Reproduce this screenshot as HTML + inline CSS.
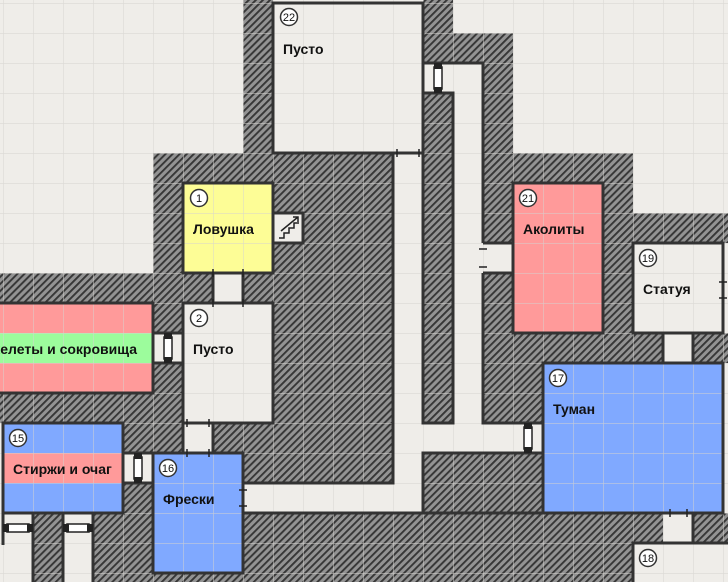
<!DOCTYPE html>
<html><head><meta charset="utf-8"><style>
html,body{margin:0;padding:0;background:#efede9;}
svg{display:block;}
text{font-family:"Liberation Sans",sans-serif;font-weight:bold;fill:#111;}
.n{font-weight:normal;font-size:11px;text-anchor:middle;}
</style></head><body>
<svg width="728" height="582" viewBox="0 0 728 582" xmlns="http://www.w3.org/2000/svg">
<defs>
<pattern id="h" width="5" height="5" patternUnits="userSpaceOnUse" patternTransform="rotate(45)">
<rect width="5" height="5" fill="#939393"/><rect width="1.9" height="5" fill="#363636"/>
</pattern>
<pattern id="g" x="3" y="3" width="30" height="30" patternUnits="userSpaceOnUse">
<path d="M0 0H30M0 0V30" fill="none" stroke="#d6d4d0" stroke-width="1.2"/>
</pattern>
</defs>
<rect width="728" height="582" fill="#efede9"/>
<g fill="url(#h)">
<rect x="243" y="0" width="30" height="153"/>
<rect x="423" y="0" width="30" height="33"/>
<rect x="423" y="33" width="90" height="30"/>
<rect x="483" y="63" width="30" height="90"/>
<rect x="423" y="93" width="30" height="330"/>
<rect x="153" y="153" width="240" height="120"/>
<rect x="0" y="273" width="393" height="30"/>
<rect x="153" y="303" width="30" height="90"/>
<rect x="273" y="303" width="120" height="180"/>
<rect x="0" y="393" width="183" height="30"/>
<rect x="123" y="423" width="60" height="30"/>
<rect x="213" y="423" width="180" height="30"/>
<rect x="243" y="453" width="150" height="30"/>
<rect x="123" y="453" width="30" height="60"/>
<rect x="93" y="513" width="60" height="69"/>
<rect x="33" y="513" width="30" height="69"/>
<rect x="153" y="570" width="90" height="12"/>
<rect x="243" y="513" width="420" height="30"/>
<rect x="243" y="543" width="390" height="39"/>
<rect x="693" y="513" width="35" height="30"/>
<rect x="483" y="153" width="150" height="180"/>
<rect x="633" y="213" width="95" height="30"/>
<rect x="483" y="333" width="60" height="90"/>
<rect x="543" y="333" width="120" height="30"/>
<rect x="693" y="333" width="35" height="30"/>
<rect x="423" y="453" width="120" height="60"/>
</g>
<g fill="#efede9">
<rect x="213" y="273" width="30" height="30"/>
<rect x="153" y="333" width="30" height="30"/>
<rect x="123" y="453" width="30" height="30"/>
<rect x="483" y="243" width="30" height="30"/>
<rect x="273" y="213" width="30" height="30"/>
<rect x="273" y="3" width="150" height="150"/>
<rect x="183" y="303" width="90" height="120"/>
<rect x="633" y="243" width="90" height="90"/>
<rect x="633" y="543" width="95" height="40"/>
</g>
<rect x="183" y="183" width="90" height="90" fill="#fdfd96"/>
<rect x="-5" y="303" width="158" height="90" fill="#ff9a9a"/>
<rect x="-5" y="333" width="158" height="30" fill="#9cfc9c"/>
<rect x="3" y="423" width="120" height="90" fill="#80a9ff"/>
<rect x="3" y="453" width="120" height="30" fill="#ff9a9a"/>
<rect x="153" y="453" width="90" height="120" fill="#80a9ff"/>
<rect x="513" y="183" width="90" height="150" fill="#ff9a9a"/>
<rect x="543" y="363" width="180" height="150" fill="#80a9ff"/>
<rect width="728" height="582" fill="url(#g)" opacity="0.8"/>
<g fill="none" stroke="#333" stroke-width="3">
<rect x="273" y="3" width="150" height="150"/>
<rect x="183" y="183" width="90" height="90"/>
<rect x="273" y="213" width="30" height="30"/>
<rect x="183" y="303" width="90" height="120"/>
<rect x="3" y="423" width="120" height="90"/>
<rect x="153" y="453" width="90" height="120"/>
<rect x="513" y="183" width="90" height="150"/>
<rect x="633" y="243" width="90" height="90"/>
<rect x="543" y="363" width="180" height="150"/>
<rect x="423" y="93" width="30" height="330"/>
<path d="M-5 303H153V393H-5"/>
<path d="M423 63H483V243M483 273V423H543"/>
<path d="M393 153V483H243M243 513H663M693 513V543M633 582V543H728"/>
<path d="M423 513V453H543"/>
<path d="M213 273V303M243 273V303M153 333H183M153 363H183M183 423V453M213 423V453M123 453H153M123 483H153"/>
<path d="M483 243H513M483 273H513M663 333V363M693 333V363"/>
<path d="M3 513V545M33 513V582M63 513V582M93 513V582"/>
</g>
<g stroke="#222" stroke-width="1.5">
<path d="M397 149V157M419 149V157M213 269V277M243 269V277M213 299V307M243 299V307M187 419V427M209 419V427M187 449V457M209 449V457M239 490H247M239 506H247M479 249H487M479 267H487M719 282H727M719 298H727M670 509V517M687 509V517"/>
</g>
<g>
<rect x="434" y="67" width="8" height="22" fill="#fff" stroke="#222" stroke-width="1.5"/><rect x="434" y="63" width="8" height="6" fill="#222"/><rect x="434" y="87" width="8" height="6" fill="#222"/>
<rect x="164" y="337" width="8" height="22" fill="#fff" stroke="#222" stroke-width="1.5"/><rect x="164" y="333" width="8" height="6" fill="#222"/><rect x="164" y="357" width="8" height="6" fill="#222"/>
<rect x="134" y="457" width="8" height="22" fill="#fff" stroke="#222" stroke-width="1.5"/><rect x="134" y="453" width="8" height="6" fill="#222"/><rect x="134" y="477" width="8" height="6" fill="#222"/>
<rect x="524" y="427" width="8" height="22" fill="#fff" stroke="#222" stroke-width="1.5"/><rect x="524" y="423" width="8" height="6" fill="#222"/><rect x="524" y="447" width="8" height="6" fill="#222"/>
<rect x="7" y="524" width="22" height="8" fill="#fff" stroke="#222" stroke-width="1.5"/><rect x="3" y="524" width="6" height="8" fill="#222"/><rect x="27" y="524" width="6" height="8" fill="#222"/>
<rect x="67" y="524" width="22" height="8" fill="#fff" stroke="#222" stroke-width="1.5"/><rect x="63" y="524" width="6" height="8" fill="#222"/><rect x="87" y="524" width="6" height="8" fill="#222"/>
</g>
<path d="M279 238H284V233H289V228H294V223H299M281 231L298 217M293 217H298V222" fill="none" stroke="#222" stroke-width="1.5"/>
<g fill="#fff" stroke="#333" stroke-width="1.5">
<circle cx="289" cy="17" r="8.5"/><circle cx="199" cy="198" r="8.5"/><circle cx="199" cy="318" r="8.5"/>
<circle cx="18" cy="438" r="8.5"/><circle cx="168" cy="468" r="8.5"/><circle cx="528" cy="198" r="8.5"/>
<circle cx="648" cy="258" r="8.5"/><circle cx="558" cy="378" r="8.5"/><circle cx="648" cy="558" r="8.5"/>
</g>
<g>
<text class="n" x="289" y="21">22</text><text class="n" x="199" y="202">1</text><text class="n" x="199" y="322">2</text>
<text class="n" x="18" y="442">15</text><text class="n" x="168" y="472">16</text><text class="n" x="528" y="202">21</text>
<text class="n" x="648" y="262">19</text><text class="n" x="558" y="382">17</text><text class="n" x="648" y="562">18</text>
</g>
<g font-size="14">
<text x="283" y="54">Пусто</text>
<text x="193" y="234">Ловушка</text>
<text x="193" y="354">Пусто</text>
<text x="137" y="354" text-anchor="end">Скелеты и сокровища</text>
<text x="13" y="474">Стиржи и очаг</text>
<text x="163" y="504">Фрески</text>
<text x="523" y="234">Аколиты</text>
<text x="643" y="294">Статуя</text>
<text x="553" y="414">Туман</text>
</g>
</svg>
</body></html>
